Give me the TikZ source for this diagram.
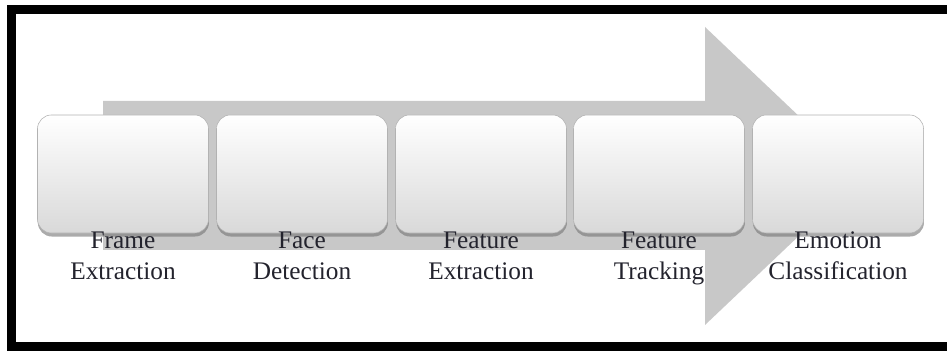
\documentclass[tikz,border=0pt]{standalone}
\usepackage{fontspec}
\setmainfont{Liberation Serif}
\usepackage{tikz}
\usetikzlibrary{shadows}
\definecolor{arrowgray}{RGB}{200,200,200}
\definecolor{labeltext}{RGB}{35,35,45}

\tikzset{
  stage/.style={rounded corners=0.35cm, minimum width=4.275cm, minimum height=2.95cm,
    inner sep=0pt, draw=black!30, line width=0.4pt, top color=white, bottom color=black!15,
    drop shadow={shadow xshift=0.3pt, shadow yshift=-2.5pt, fill=black!55, opacity=0.6}},
  lbl/.style={align=center, text=labeltext, font=\fontsize{18}{22}\selectfont, inner sep=0pt}
}

\begin{document}
\begin{tikzpicture}[x=0.025cm, y=0.025cm]
    \useasboundingbox (0,0) rectangle (947,352);

    % Frame (open on the right)
    \draw[line width=6.4pt, miter limit=10] (947,342) -- (11,342) -- (11,5) -- (947,5);

    % Big arrow behind the stages
    \fill[arrowgray] (103,251) -- (705,251) -- (705,325) -- (862,176)
        -- (705,27) -- (705,102) -- (103,102) -- cycle;

    % Stages
    \foreach \n/\x/\t in {frame/123/{Frame\\Extraction},
                          face/302/{Face\\Detection},
                          featx/481/{Feature\\Extraction},
                          track/659/{Feature\\Tracking},
                          emo/838/{Emotion\\Classification}} {
        \node[stage] (\n) at (\x,178) {};
        \node[lbl, anchor=base] (\n-lbl) at ([yshift=-1.15cm]\n.south) {\t};
    }
\end{tikzpicture}
\end{document}
